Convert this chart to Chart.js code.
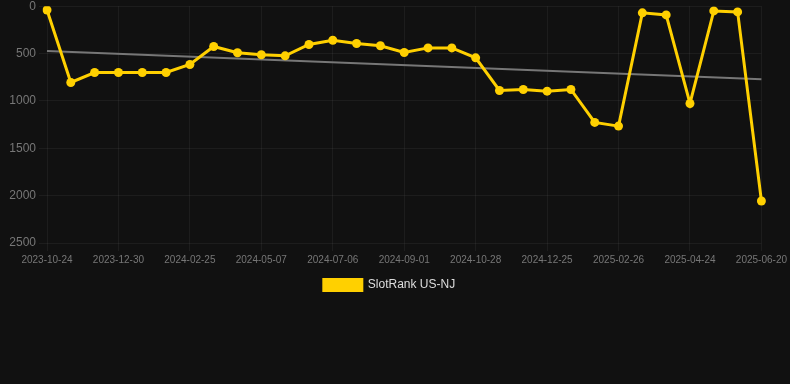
<!DOCTYPE html>
<html>
<head>
<meta charset="utf-8">
<script src="https://cdn.jsdelivr.net/npm/chart.js"></script>
<style>
  html, body { margin: 0; padding: 0; background: #111111; }
  #wrap { width: 790px; height: 305px; margin-top: -4px; position: relative; }
</style>
</head>
<body>
<div id="wrap"><canvas id="chart1"></canvas></div>
<script>
// dates for each sample (only every 3rd is shown on the axis)
var dates = [
  "2023-10-24","2023-11-15","2023-12-08","2023-12-30","2024-01-18","2024-02-06",
  "2024-02-25","2024-03-20","2024-04-13","2024-05-07","2024-05-27","2024-06-16",
  "2024-07-06","2024-07-25","2024-08-13","2024-09-01","2024-09-19","2024-10-09",
  "2024-10-28","2024-11-17","2024-12-06","2024-12-25","2025-01-15","2025-02-05",
  "2025-02-26","2025-03-18","2025-04-05","2025-04-24","2025-05-13","2025-06-01",
  "2025-06-20"
];

var rank = [
  40, 805, 700, 700, 700, 700, 615, 425, 492, 513, 524, 404, 359, 394, 418,
  489, 440, 440, 545, 890, 879, 897, 879, 1227, 1266, 70, 92, 1027, 50, 60, 2057
];

// trend line: start and end only
var trend = [472].concat(new Array(29).fill(null)).concat([770]);

var yTicks = [0, 500, 1000, 1500, 2000, 2500];

var ctx = document.getElementById("chart1").getContext("2d");
var myChart = new Chart(ctx, {
  type: 'line',
  data: {
    labels: dates,
    datasets: [{
      label: 'SlotRank US-NJ',
      data: rank,
      borderColor: "#ffd000",
      backgroundColor: "#ffd000",
      borderWidth: 3,
      pointRadius: 4.5,
      pointBorderWidth: 0,
      pointHoverRadius: 4.5,
      tension: 0
    }, {
      label: 'trend',
      data: trend,
      borderColor: "#777777",
      borderWidth: 2,
      pointRadius: 0,
      spanGaps: true
    }]
  },
  options: {
    responsive: true,
    maintainAspectRatio: false,
    animation: false,
    layout: { padding: { top: 0, left: 0, bottom: 0, right: 11 } },
    plugins: {
      legend: {
        position: 'bottom',
        labels: {
          color: "#dddddd",
          boxWidth: 38,
          boxHeight: 11,
          font: { family: "Arial, 'Liberation Sans'", size: 12 },
          filter: function(item) { return item.text !== 'trend'; }
        }
      },
      tooltip: { enabled: false }
    },
    scales: {
      x: {
        grid: { color: "rgba(255,255,255,0.05)" },
        border: { display: false },
        ticks: {
          color: "#777777",
          font: { family: "Arial, 'Liberation Sans'", size: 10 },
          autoSkip: false,
          maxRotation: 0,
          callback: function(v, i) { return i % 3 === 0 ? dates[i] : null; }
        }
      },
      y: {
        reverse: true,
        min: yTicks[0],
        max: yTicks[yTicks.length - 1],
        afterFit: function(axis) { axis.width = 47; },
        grid: { color: "rgba(255,255,255,0.05)" },
        border: { display: false },
        ticks: {
          stepSize: 500,
          color: "#777777",
          font: { family: "Arial, 'Liberation Sans'", size: 12 },
          callback: function(v) { return String(v); }
        }
      }
    }
  }
});
</script>
</body>
</html>
